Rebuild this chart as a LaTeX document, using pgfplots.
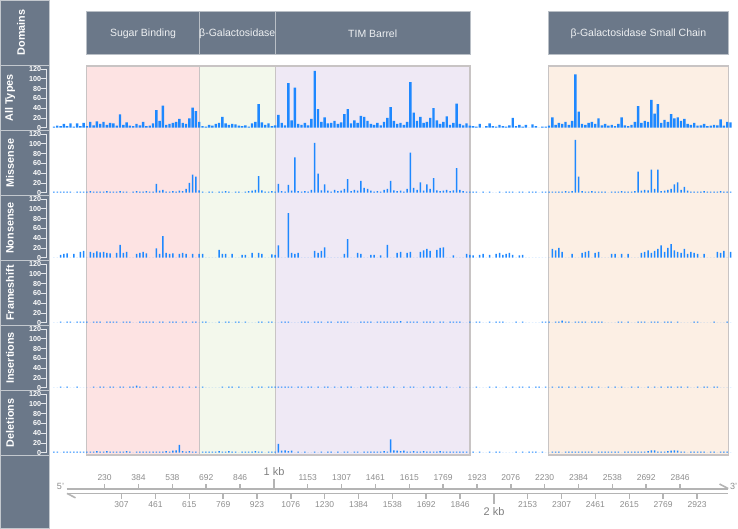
\documentclass[border=0pt]{standalone}
\usepackage{pgfplots}
\pgfplotsset{compat=1.18}
\usepackage{pgfplotstable}
\usepackage{fontspec}
\setmainfont{Liberation Sans}
\definecolor{side}{HTML}{6B7889}
\definecolor{sideborder}{HTML}{C3C8CE}
\definecolor{headborder}{HTML}{B9BFC6}
\definecolor{headtext}{HTML}{EEF0F2}
\definecolor{sugarbg}{HTML}{FDE3E3}
\definecolor{galbg}{HTML}{F3F8EC}
\definecolor{timbg}{HTML}{EFE9F5}
\definecolor{smallbg}{HTML}{FCEFE4}
\definecolor{domborder}{HTML}{C8C4C4}
\definecolor{barblue}{HTML}{1E88FF}
\definecolor{rulegray}{HTML}{B4B4B4}
\definecolor{tickgray}{HTML}{8C8C8C}
\definecolor{kbgray}{HTML}{808080}
\definecolor{axisline}{HTML}{E4E7EB}

\pgfplotstableread{
pos all mis non fs ins del
0 2 2 0 0 0 2
15 4 2 0 0 0 2
30 3 2 6 2 2 0
45 8 2 8 0 0 2
60 3 2 9 2 2 2
75 9 2 0 2 0 2
90 2 0 8 0 0 2
105 9 2 0 2 2 2
120 3 2 12 2 0 2
135 10 2 14 2 0 2
150 3 2 0 2 0 2
165 12 3 12 0 0 2
180 5 2 10 2 2 2
195 13 2 13 2 0 3
210 8 2 11 2 2 2
225 12 2 12 0 2 2
240 6 3 10 2 0 3
255 10 2 9 2 2 2
270 9 2 0 2 2 2
285 4 2 10 2 0 2
300 27 3 26 0 2 2
315 6 2 10 2 2 2
330 11 2 12 2 0 3
345 4 0 0 2 2 2
360 3 2 0 0 2 0
375 8 3 8 0 4 2
390 5 2 10 2 2 2
405 12 2 12 2 0 2
420 3 3 9 2 2 2
435 4 2 0 2 0 2
450 9 2 0 2 2 2
465 36 18 19 0 2 2
480 14 4 8 2 0 2
495 45 6 44 2 2 2
510 6 2 10 0 0 3
525 8 2 8 2 2 2
540 10 3 9 2 2 4
555 12 2 0 2 0 5
570 18 4 8 0 2 16
585 10 3 10 2 2 3
600 8 8 8 2 0 2
615 19 20 0 0 2 3
630 41 37 8 2 0 2
645 34 33 0 2 2 2
660 12 5 8 0 0 0
675 3 2 8 2 2 2
690 2 0 0 2 0 2
705 6 2 0 0 0 2
720 4 2 0 0 0 2
735 8 0 0 0 0 2
750 10 2 16 2 0 3
765 22 2 8 0 2 2
780 9 3 8 2 0 2
795 6 2 0 2 2 3
810 8 0 8 0 2 2
825 7 2 0 2 0 2
840 4 2 0 2 2 0
855 3 0 6 0 0 2
870 5 2 6 2 0 2
885 2 3 0 0 0 2
900 9 4 10 0 2 2
915 12 6 0 0 0 3
930 48 34 10 2 2 2
945 11 5 8 2 2 2
960 6 2 0 0 0 0
975 9 2 0 2 2 2
990 3 3 7 2 2 2
1005 5 2 6 0 2 2
1020 26 18 25 0 2 18
1035 10 3 0 2 2 4
1050 5 2 0 2 2 5
1065 91 16 91 2 2 3
1080 15 4 10 0 2 4
1095 82 72 8 0 0 0
1110 8 3 10 0 2 2
1125 6 2 0 2 2 0
1140 10 3 0 2 0 2
1155 5 2 0 2 2 0
1170 18 6 0 0 2 0
1185 116 102 14 2 0 2
1200 38 39 10 2 2 0
1215 12 5 14 2 0 2
1230 21 17 21 0 2 0
1245 9 4 0 2 2 2
1260 10 2 0 2 0 2
1275 14 6 0 0 2 0
1290 8 3 0 2 0 2
1305 11 4 0 2 2 0
1320 28 8 8 2 0 2
1335 38 28 38 2 2 2
1350 9 3 0 0 2 0
1365 15 6 0 0 0 2
1380 10 4 10 0 0 2
1395 24 24 8 2 2 0
1410 22 10 0 2 0 2
1425 14 8 0 2 2 2
1440 8 4 6 2 2 2
1455 6 2 6 0 0 2
1470 10 3 0 2 2 2
1485 5 2 5 2 0 2
1500 12 6 0 2 2 3
1515 20 8 26 2 2 2
1530 42 24 0 2 0 27
1545 14 5 0 2 2 5
1560 8 3 10 2 0 4
1575 10 4 12 3 0 3
1590 6 2 0 0 2 4
1605 12 8 10 2 0 2
1620 93 82 12 2 2 2
1635 31 10 0 2 2 3
1650 14 6 0 2 0 2
1665 22 21 12 0 0 2
1680 10 4 15 2 2 3
1695 12 17 18 2 0 2
1710 20 8 14 2 2 2
1725 40 30 0 2 2 2
1740 15 5 16 0 0 2
1755 8 3 20 2 2 3
1770 12 4 21 2 0 2
1785 23 6 0 0 2 2
1800 6 3 0 2 0 2
1815 10 5 5 2 0 2
1830 49 50 0 2 0 2
1845 8 6 0 2 2 2
1860 5 3 0 0 0 2
1875 9 2 8 0 0 2
1890 4 2 6 2 0 0
1905 3 2 5 0 0 2
1920 2 2 0 2 2 0
1935 8 0 6 2 0 2
1950 0 2 8 0 0 0
1965 3 0 0 0 0 0
1980 9 2 6 2 2 2
1995 3 0 0 0 0 0
2010 2 0 8 2 2 2
2025 6 2 10 2 0 2
2040 3 0 6 2 0 0
2055 2 2 8 0 2 0
2070 5 2 10 0 0 0
2085 20 2 6 0 2 0
2100 3 0 0 2 0 2
2115 6 2 5 0 2 0
2130 2 2 6 2 2 2
2145 6 0 0 0 0 0
2160 0 2 0 0 2 2
2175 7 2 0 0 0 2
2190 3 2 0 0 2 2
2205 0 0 0 0 2 0
2220 2 2 0 2 0 2
2235 2 2 0 2 2 0
2250 4 2 0 2 0 0
2265 21 2 18 0 2 2
2280 6 2 15 2 0 2
2295 10 2 20 2 2 2
2310 8 2 12 4 2 0
2325 12 3 0 2 0 2
2340 6 2 0 2 2 2
2355 14 3 8 0 0 2
2370 109 108 0 2 2 2
2385 33 33 0 2 0 2
2400 8 3 10 2 2 2
2415 6 2 12 2 0 2
2430 10 2 14 0 2 2
2445 12 3 0 2 2 2
2460 8 2 10 2 0 0
2475 19 2 12 2 2 2
2490 5 2 0 2 0 2
2505 8 2 0 0 0 2
2520 4 0 0 0 2 2
2535 6 2 8 0 0 2
2550 3 2 8 0 2 2
2565 8 2 0 2 0 2
2580 21 3 8 2 2 0
2595 5 2 0 0 0 2
2610 3 2 8 2 0 2
2625 6 2 0 0 2 2
2640 12 3 0 0 0 2
2655 44 43 0 2 2 2
2670 10 4 10 2 0 2
2685 14 6 12 2 0 2
2700 12 5 15 0 2 3
2715 57 47 10 2 0 5
2730 29 8 14 2 2 5
2745 48 47 18 2 0 2
2760 10 3 25 0 2 2
2775 16 4 12 2 0 2
2790 12 6 20 2 2 3
2805 28 8 28 2 2 4
2820 19 17 15 0 0 5
2835 21 21 12 2 2 4
2850 14 6 10 0 2 2
2865 18 12 18 0 0 2
2880 8 4 8 0 2 0
2895 6 2 12 0 0 2
2910 10 2 10 2 0 2
2925 4 2 8 2 2 2
2940 5 2 0 0 0 2
2955 8 3 8 0 2 2
2970 3 2 0 0 2 0
2985 4 2 0 0 0 2
3000 6 2 0 2 2 2
3015 5 2 12 0 2 0
3030 17 3 10 0 0 2
3045 4 2 14 0 0 2
3060 12 2 0 2 0 2
3075 11 2 12 0 0 0
}\lacz

\pgfplotsset{
  /pgf/number format/assume math mode=true,
  track/.style={scale only axis, width=685.6pt, height=58.7pt,
    xmin=-36.36, xmax=3080, ymin=0, ymax=120,
    axis x line=none, axis y line*=left,
    axis line style={-,draw=axisline,line width=0.8pt},
    ytick={0,20,...,120}, tick align=outside, major tick length=4.5pt,
    major tick style={draw=axisline,line width=0.8pt},
    yticklabel style={font=\bfseries\fontsize{7.2}{7.2}\selectfont, text=white, inner sep=0.2pt},
    anchor=south west},
  bars/.style={ybar, bar width=1.5pt, fill=barblue, draw=none, mark=none},
  ruler/.style={scale only axis, width=661.6pt, height=4.5pt,
    at={(66.7pt,-493.5pt)}, anchor=south west,
    xmin=57.7, xmax=3065, ymin=0, ymax=1, axis y line=none,
    axis line style={-,draw=rulegray,line width=1.6pt},
    tick align=outside, major tick length=5pt,
    major tick style={draw=rulegray,line width=1.6pt},
    xticklabel style={font=\fontsize{8.5}{9}\selectfont, text=tickgray},
    extra x tick style={major tick length=10pt, xticklabel style={font=\fontsize{11}{12}\selectfont, text=kbgray}}},
}

\begin{document}
\begin{tikzpicture}[x=1pt,y=1pt]
\path[use as bounding box] (0,0) rectangle (738,-529);
% sidebar
\foreach \a/\b in {0/65, 65.5/130.5, 130.5/195.5, 195.5/260.5, 260.5/325.5, 325.5/390.5, 390.5/455.5, 455.5/528.5}
  {\draw[fill=side, draw=sideborder, line width=0.8pt] (0.4,-\a) rectangle (49.6,-\b);}
\node[rotate=90, text=white, font=\bfseries\fontsize{10.8}{12}\selectfont] at (21,-32.5) {Domains};
\node[rotate=90, text=white, font=\bfseries\fontsize{10.8}{12}\selectfont] at (10,-98) {All Types};
\node[rotate=90, text=white, font=\bfseries\fontsize{10.8}{12}\selectfont] at (10,-163) {Missense};
\node[rotate=90, text=white, font=\bfseries\fontsize{10.8}{12}\selectfont] at (10,-228) {Nonsense};
\node[rotate=90, text=white, font=\bfseries\fontsize{10.8}{12}\selectfont] at (10,-293) {Frameshift};
\node[rotate=90, text=white, font=\bfseries\fontsize{10.8}{12}\selectfont] at (10,-358) {Insertions};
\node[rotate=90, text=white, font=\bfseries\fontsize{10.8}{12}\selectfont] at (10,-423) {Deletions};

% domains
\begin{axis}[scale only axis, width=685.6pt, height=529pt, at={(46pt,-529pt)}, anchor=south west,
  xmin=-36.36, xmax=3080, ymin=-529, ymax=0, axis lines=none, clip=false]
  \filldraw[fill=sugarbg, draw=domborder, line width=1.3pt] (axis cs:149,-455) rectangle (axis cs:660,-66);
  \filldraw[fill=galbg, draw=domborder, line width=1.3pt] (axis cs:660,-455) rectangle (axis cs:1006,-66);
  \filldraw[fill=timbg, draw=domborder, line width=1.3pt] (axis cs:1006,-455) rectangle (axis cs:1891,-66);
  \filldraw[fill=smallbg, draw=domborder, line width=1.3pt] (axis cs:2247,-455) rectangle (axis cs:3065,-66);
  \filldraw[fill=side, draw=headborder, line width=1pt] (axis cs:149,-55) rectangle (axis cs:660,-11.7);
  \filldraw[fill=side, draw=headborder, line width=1pt] (axis cs:660,-55) rectangle (axis cs:1006,-11.7);
  \filldraw[fill=side, draw=headborder, line width=1pt] (axis cs:1006,-55) rectangle (axis cs:1891,-11.7);
  \filldraw[fill=side, draw=headborder, line width=1pt] (axis cs:2247,-55) rectangle (axis cs:3065,-11.7);
  \node[text=headtext, font=\fontsize{10.5}{12}\selectfont] at (axis cs:404.5,-33.3) {Sugar Binding};
  \node[text=headtext, font=\fontsize{10.5}{12}\selectfont, inner sep=0pt] at (axis cs:833,-33.3) {β-Galactosidase};
  \node[text=headtext, font=\fontsize{10.5}{12}\selectfont] at (axis cs:1448.5,-33.3) {TIM Barrel};
  \node[text=headtext, font=\fontsize{10.5}{12}\selectfont] at (axis cs:2656,-33.3) {β-Galactosidase Small Chain};
\end{axis}

% tracks
\begin{axis}[track, at={(46pt,-127.7pt)}]
  \addplot[bars, bar width=2.4pt] table[x=pos,y=all] {\lacz};
\end{axis}
\begin{axis}[track, at={(46pt,-192.7pt)}]
  \addplot[bars] table[x=pos,y=mis] {\lacz};
\end{axis}
\begin{axis}[track, at={(46pt,-257.7pt)}]
  \addplot[bars] table[x=pos,y=non] {\lacz};
\end{axis}
\begin{axis}[track, at={(46pt,-322.7pt)}]
  \addplot[bars] table[x=pos,y=fs] {\lacz};
\end{axis}
\begin{axis}[track, at={(46pt,-387.7pt)}]
  \addplot[bars] table[x=pos,y=ins] {\lacz};
\end{axis}
\begin{axis}[track, at={(46pt,-452.7pt)}]
  \addplot[bars] table[x=pos,y=del] {\lacz};
\end{axis}

% ruler
\begin{axis}[ruler, axis x line*=top, tick align=outside,
  xtick={230,384,538,692,846,1153,1307,1461,1615,1769,1923,2076,2230,2384,2538,2692,2846},
  xticklabels={230,384,538,692,846,1153,1307,1461,1615,1769,1923,2076,2230,2384,2538,2692,2846},
  extra x ticks={1000}, extra x tick labels={1 kb}]
\end{axis}
\begin{axis}[ruler, axis x line*=bottom, tick align=outside,
  xtick={307,461,615,769,923,1076,1230,1384,1538,1692,1846,2153,2307,2461,2615,2769,2923},
  xticklabels={307,461,615,769,923,1076,1230,1384,1538,1692,1846,2153,2307,2461,2615,2769,2923},
  extra x ticks={2000}, extra x tick labels={2 kb}]
\end{axis}
\draw[rulegray, line width=1.6pt] (719.5,-484) -- (728.3,-488.6);
\draw[rulegray, line width=1.6pt] (67,-493.4) -- (75.5,-497.8);
\node[text=tickgray, font=\fontsize{9}{10}\selectfont] at (60.5,-486.5) {5'};
\node[text=tickgray, font=\fontsize{9}{10}\selectfont] at (733.5,-486) {3'};
\end{tikzpicture}
\end{document}
